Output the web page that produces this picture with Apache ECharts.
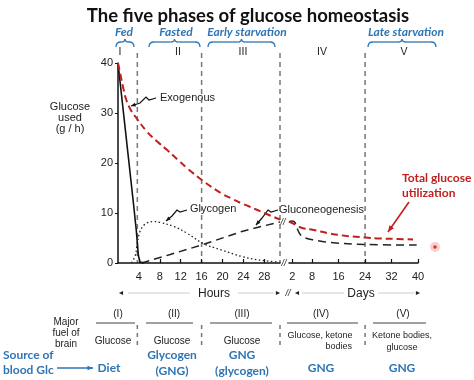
<!DOCTYPE html>
<html><head><meta charset="utf-8">
<script src="https://cdn.jsdelivr.net/npm/echarts@6/dist/echarts.min.js"></script>
<style>html,body{margin:0;padding:0;background:#fff}#c{width:474px;height:380px}</style>
</head><body><div id="c"></div>
<script>
// ---- data ----
var hourTicks = [4, 8, 12, 16, 20, 24, 28];
var dayTicks = [2, 8, 16, 24, 32, 40];
var yTicks = [0, 10, 20, 30, 40];
var totalHours = [[0,40],[0.5,37.5],[1,35],[1.6,32.6],[2.5,30.5],[3.6,28.9],[5.5,26.3],[7.5,24.3],[9.4,22.6],[11.5,20.6],[13.3,18.9],[16.3,16.4],[19.8,13.9],[21.7,12.9],[23.7,11.9],[24.9,11.4],[28.2,9.9],[31,8.7]];
var totalDays = [[1,8.3],[3.4,7.5],[5,7],[8.4,6.6],[13.4,5.9],[18.5,5.4],[24,5.1],[28.5,4.9],[34,4.8],[38.5,4.7]];
var exogenous = [[0,40],[1,30.5],[2,21],[3,11.5],[3.5,6.5],[3.9,1.5],[4.2,0.2],[5,0]];
var glycogen = [[2.6,0],[3.3,1.5],[3.6,3.3],[4.2,6.3],[5,7.6],[5.5,8],[6.8,8.3],[8.1,8.1],[10.7,7.3],[13.3,5.9],[16.3,3.9],[19.8,2.6],[23.7,1.3],[27,0.6],[30.8,0.2]];
var gngHours = [[4.5,0],[10,1.7],[16.3,3.7],[23.7,6.3],[28.2,7.5],[31,8.2]];
var gngDays = [[1,8.2],[2,8.4],[2.8,8.1],[3.4,7],[4.5,5.6],[6,5],[8.4,4.6],[13.4,4.1],[24,3.7],[39.6,3.6]];
var boundHours = [3.7, 16, 31];
var boundDays = [24];
var phaseNumerals = ['I','II','III','IV','V'];
var phaseNames = ['(I)','(II)','(III)','(IV)','(V)'];

var RED = '#c0201e', BLUE = '#2e75b6', INK = '#222';
var chart = echarts.init(document.getElementById('c'), null, {renderer:'canvas'});

function axisX(grid, min, max, ticks){
  return {gridIndex:grid, type:'value', min:min, max:max,
    axisLine:{show:true, onZero:false, lineStyle:{color:'#111', width:1.5}},
    axisTick:{show:true, inside:true, length:4, customValues:ticks, lineStyle:{color:'#111', width:1.2}},
    axisLabel:{customValues:ticks, fontSize:11, color:INK, margin:8, fontFamily:'Liberation Sans'},
    splitLine:{show:false}};
}
function line(xi, data, style, smooth){
  return {type:'line', xAxisIndex:xi, yAxisIndex:xi, data:data, showSymbol:false, smooth:smooth,
    lineStyle:style, silent:true, z:3};
}
chart.setOption({
  animation:false,
  grid:[{left:118, top:63, width:162, height:200},{left:289, top:63, width:129, height:200}],
  xAxis:[axisX(0,0,31,hourTicks), axisX(1,1,40,dayTicks)],
  yAxis:[{gridIndex:0, type:'value', min:0, max:40, interval:10,
    axisLine:{show:true, lineStyle:{color:'#111', width:1.5}},
    axisTick:{show:true, length:3, lineStyle:{color:'#111'}},
    axisLabel:{fontSize:11, color:INK, margin:5, fontFamily:'Liberation Sans'},
    splitLine:{show:false}},
    {gridIndex:1, type:'value', min:0, max:40, show:false}],
  series:[
    line(0, gngHours, {color:'#222', width:1.5, type:[8,5]}, false),
    line(1, gngDays, {color:'#222', width:1.5, type:[8,5]}, 0.4),
    line(0, glycogen, {color:'#222', width:1.3, type:[1.5,2.5]}, 0.4),
    line(0, exogenous, {color:'#111', width:1.6}, false),
    line(0, totalHours, {color:RED, width:2, type:[7,4]}, 0.4),
    line(1, totalDays, {color:RED, width:2, type:[7,4]}, 0.4)
  ]
});

// ---- annotation graphics ----
var g = [];
function txt(x, y, s, font, fill, align){
  g.push({type:'text', x:x, y:y, silent:true, style:{text:s, font:font, fill:fill||INK, align:align||'center', verticalAlign:'middle'}});
}
function seg(x1,y1,x2,y2,color,w,dash){
  g.push({type:'line', silent:true, shape:{x1:x1,y1:y1,x2:x2,y2:y2}, style:{stroke:color, lineWidth:w||1, lineDash:dash||null}});
}
function curve(x1,y1,cx,cy,x2,y2,color,w){
  g.push({type:'bezierCurve', silent:true, shape:{x1:x1,y1:y1,x2:x2,y2:y2,cpx1:cx,cpy1:cy}, style:{stroke:color, lineWidth:w, fill:null}});
}
function arrow(pts, color, w, head){
  g.push({type:'polyline', silent:true, shape:{points:pts}, style:{stroke:color, lineWidth:w, fill:null}});
  var a = pts[pts.length-2], b = pts[pts.length-1];
  var ang = Math.atan2(b[1]-a[1], b[0]-a[0]), h = head||6;
  g.push({type:'polygon', silent:true, shape:{points:[b,[b[0]-h*Math.cos(ang-0.4), b[1]-h*Math.sin(ang-0.4)],[b[0]-h*Math.cos(ang+0.4), b[1]-h*Math.sin(ang+0.4)]]}, style:{fill:color}});
}
function brace(x1, x2, y){
  var m = (x1+x2)/2, w = 1.3;
  curve(x1, y+5, x1, y, x1+5, y, BLUE, w);
  seg(x1+5, y, m-4, y, BLUE, w);
  curve(m-4, y, m, y, m, y-3, BLUE, w);
  curve(m, y-3, m, y, m+4, y, BLUE, w);
  seg(m+4, y, x2-5, y, BLUE, w);
  curve(x2-5, y, x2, y, x2, y+5, BLUE, w);
}
var SANS = 'Liberation Sans';
txt(248, 16, 'The five phases of glucose homeostasis', 'bold 18.5px Lato', '#111');
var PH = 'italic bold 12px Lato';
txt(124, 32, 'Fed', PH, BLUE); brace(116, 134, 42);
txt(176, 32, 'Fasted', PH, BLUE); brace(149, 200, 42);
txt(247, 32, 'Early starvation', PH, BLUE); brace(208, 275, 42);
txt(406, 32, 'Late starvation', PH, BLUE); brace(368, 436, 42);
var numX = [120, 178, 243, 322, 404];
for (var i=0;i<5;i++) txt(numX[i], 52, phaseNumerals[i], '10.5px '+SANS, '#222');

// y axis name
txt(70, 107, 'Glucose', '11px '+SANS); txt(70, 118, 'used', '11px '+SANS); txt(70, 129, '(g / h)', '11px '+SANS);

// in-plot labels
txt(160, 98, 'Exogenous', '11px '+SANS, INK, 'left');
arrow([[156,98],[149,100],[146,97],[140,103],[131,106]], '#111', 1.2, 5);
txt(190, 209, 'Glycogen', '11px '+SANS, INK, 'left');
arrow([[187,210],[180,212],[177,210],[172,216],[166,221]], '#111', 1.2, 5);
txt(279, 210, 'Gluconeogenesis', '11px '+SANS, INK, 'left');
arrow([[278,210],[271,212],[268,210],[262,218],[256,225]], '#111', 1.2, 5);
txt(402, 178, 'Total glucose', 'bold 12px Lato', RED, 'left');
txt(402, 193, 'utilization', 'bold 12px Lato', RED, 'left');
arrow([[409,202],[388,232]], RED, 1.6, 7);

// break marks
txt(283, 222, '//', 'italic 9px '+SANS, '#222');
txt(284, 263, '//', 'italic 9px '+SANS, '#222');

// hours / days arrows
seg(128, 293, 190, 293, '#ccc', 1); seg(238, 293, 274, 293, '#ccc', 1);
txt(121, 293, '\u25C4', '7px '+SANS, '#222'); txt(278, 293, '\u25BA', '7px '+SANS, '#222');
txt(214, 294, 'Hours', '12px '+SANS, '#222');
txt(288, 293, '//', 'italic 9px '+SANS, '#222');
seg(302, 293, 344, 293, '#ccc', 1); seg(378, 293, 414, 293, '#ccc', 1);
txt(297, 293, '\u25C4', '7px '+SANS, '#222'); txt(418, 293, '\u25BA', '7px '+SANS, '#222');
txt(361, 294, 'Days', '12px '+SANS, '#222');

// table
var colX = [118, 174, 242, 321, 403];
var colL = [[96,135],[146,193],[210,272],[287,358],[373,426]];
for (var i=0;i<5;i++){ txt(colX[i], 314, phaseNames[i], '10px '+SANS, '#222'); seg(colL[i][0], 323, colL[i][1], 323, '#444', 1.2); }
txt(66, 322, 'Major', '10px '+SANS); txt(66, 333, 'fuel of', '10px '+SANS); txt(66, 344, 'brain', '10px '+SANS);
txt(113, 341, 'Glucose', '10px '+SANS); txt(172, 341, 'Glucose', '10px '+SANS); txt(242, 341, 'Glucose', '10px '+SANS);
txt(320, 336, 'Glucose, ketone', '9px '+SANS); txt(352, 347, 'bodies', '9px '+SANS, INK, 'right');
txt(402, 336, 'Ketone bodies,', '9px '+SANS); txt(402, 348, 'glucose', '9px '+SANS);
var BF = 'bold 12px Lato';
txt(3, 355, 'Source of', BF, BLUE, 'left'); txt(3, 370, 'blood Glc', BF, BLUE, 'left');
arrow([[57,368],[93,368]], BLUE, 1.5, 6);
txt(109, 368, 'Diet', BF, BLUE);
txt(172, 355, 'Glycogen', BF, BLUE); txt(172, 371, '(GNG)', BF, BLUE);
txt(242, 355, 'GNG', BF, BLUE); txt(242, 371, '(glycogen)', BF, BLUE);
txt(321, 368, 'GNG', BF, BLUE); txt(402, 368, 'GNG', BF, BLUE);

// cursor dot
g.push({type:'circle', silent:true, shape:{cx:435, cy:247, r:5}, style:{fill:'rgba(240,120,110,0.35)'}});
g.push({type:'circle', silent:true, shape:{cx:435, cy:247, r:1.8}, style:{fill:'#d33'}});

// phase boundary dashed lines + table separators, positioned from axis values
var lineTop = chart.convertToPixel({yAxisIndex:0}, 40) - 10, lineBot = chart.convertToPixel({yAxisIndex:0}, 0);
function bound(px){
  seg(px, lineTop, px, lineBot, '#777', 1.5, [5,4]);
  seg(px, 325, px, 349, '#777', 1.5, [4,4]);
}
boundHours.forEach(function(v){ bound(chart.convertToPixel({xAxisIndex:0}, v)); });
boundDays.forEach(function(v){ bound(chart.convertToPixel({xAxisIndex:1}, v)); });

chart.setOption({graphic:{elements:g}});
</script></body></html>
